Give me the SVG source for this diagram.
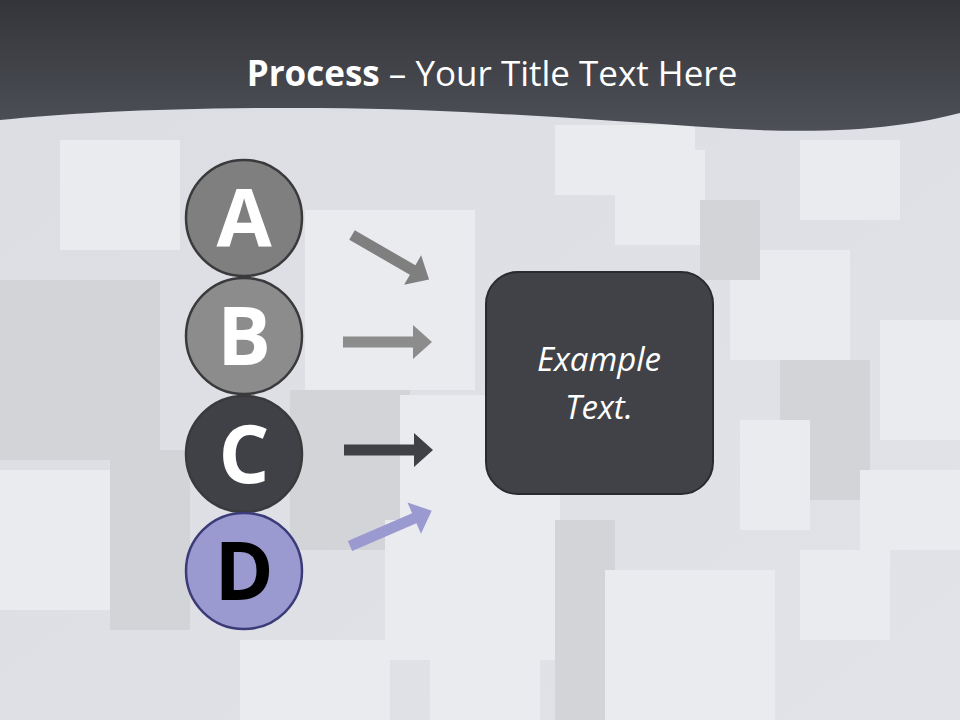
<svg xmlns="http://www.w3.org/2000/svg" width="960" height="720" viewBox="0 0 960 720">
<defs>
<linearGradient id="hdr" x1="0" y1="0" x2="0" y2="1">
<stop offset="0" stop-color="#34353a"/>
<stop offset="1" stop-color="#4d5057"/>
</linearGradient>
<linearGradient id="bg" x1="0" y1="0" x2="1" y2="1">
<stop offset="0" stop-color="#dcdde2"/>
<stop offset="1" stop-color="#e2e3e8"/>
</linearGradient>
<path id="arrowShape" d="M0,-5.5 H70 V-17 L89,0 L70,17 V5.5 H0 Z"/>
</defs>
<style>
.cube{fill:#eaebef;}
.cubeS{fill:#d3d4d8;}
.circ{stroke:#3a3a3c;stroke-width:2.5;}
.let{font-family:"Open Sans","Liberation Sans",sans-serif;font-weight:bold;font-size:80px;text-anchor:middle;}
.box{font-family:"Open Sans","Liberation Sans",sans-serif;font-style:italic;font-size:33px;fill:#ffffff;text-anchor:middle;}
</style>
<g id="background">
<rect x="0" y="0" width="960" height="720" fill="url(#bg)"/>
<rect class="cubeS" x="0" y="280" width="160" height="180"/>
<rect class="cube" x="60" y="140" width="120" height="110"/>
<rect class="cube" x="0" y="470" width="110" height="140"/>
<rect class="cubeS" x="110" y="450" width="80" height="180"/>
<rect class="cube" x="305" y="210" width="170" height="180"/>
<rect class="cubeS" x="290" y="390" width="120" height="160"/>
<rect class="cube" x="400" y="395" width="160" height="130"/>
<rect class="cube" x="385" y="520" width="170" height="140"/>
<rect class="cubeS" x="555" y="520" width="60" height="200"/>
<rect class="cube" x="605" y="570" width="170" height="150"/>
<rect class="cube" x="555" y="125" width="140" height="70"/>
<rect class="cube" x="615" y="150" width="90" height="95"/>
<rect class="cube" x="730" y="250" width="120" height="110"/>
<rect class="cubeS" x="780" y="360" width="90" height="140"/>
<rect class="cube" x="800" y="550" width="90" height="90"/>
<rect class="cube" x="880" y="320" width="80" height="120"/>
<rect class="cube" x="860" y="470" width="100" height="80"/>
<rect class="cube" x="740" y="420" width="70" height="110"/>
<rect class="cubeS" x="700" y="200" width="60" height="80"/>
<rect class="cube" x="800" y="140" width="100" height="80"/>
<rect class="cube" x="240" y="640" width="150" height="80"/>
<rect class="cube" x="430" y="660" width="110" height="60"/>
</g>
<g id="header">
<path d="M0,0 H960 V113 C910,126 840,136 720,128 C580,119 460,109 320,108 C170,107 70,113 0,120 Z" fill="url(#hdr)"/>
<text x="492" y="86" font-family="'Open Sans','Liberation Sans',sans-serif" font-size="35" fill="#ffffff" text-anchor="middle"><tspan font-weight="bold">Process</tspan> – Your Title Text Here</text>
</g>
<g id="connectors">
<use href="#arrowShape" fill="#7f7f7f" transform="translate(352,235) rotate(30)"/>
<use href="#arrowShape" fill="#8c8c8c" transform="translate(343,342)"/>
<use href="#arrowShape" fill="#3f4146" transform="translate(344,450)"/>
<use href="#arrowShape" fill="#9a9ad0" transform="translate(350,546) rotate(-23.4)"/>
</g>
<g id="node-a">
<circle class="circ" cx="244" cy="218" r="58" fill="#7f7f7f"/>
<text class="let" x="244" y="247" fill="#ffffff">A</text>
</g>
<g id="node-b">
<circle class="circ" cx="244" cy="336" r="58" fill="#8c8c8c"/>
<text class="let" x="244" y="365" fill="#ffffff">B</text>
</g>
<g id="node-c">
<circle class="circ" cx="244" cy="454" r="58" fill="#3f4146"/>
<text class="let" x="244" y="483" fill="#ffffff">C</text>
</g>
<g id="node-d">
<circle cx="244" cy="571" r="58" fill="#9a9ad0" stroke="#3b3b78" stroke-width="2.5"/>
<text class="let" x="244" y="600" fill="#000000">D</text>
</g>
<g id="node-example">
<rect x="486" y="272" width="227" height="222" rx="32" ry="32" fill="#404247" stroke="#2a2b2e" stroke-width="2"/>
<text class="box" x="599" y="371">Example</text>
<text class="box" x="599" y="419">Text.</text>
</g>
</svg>
